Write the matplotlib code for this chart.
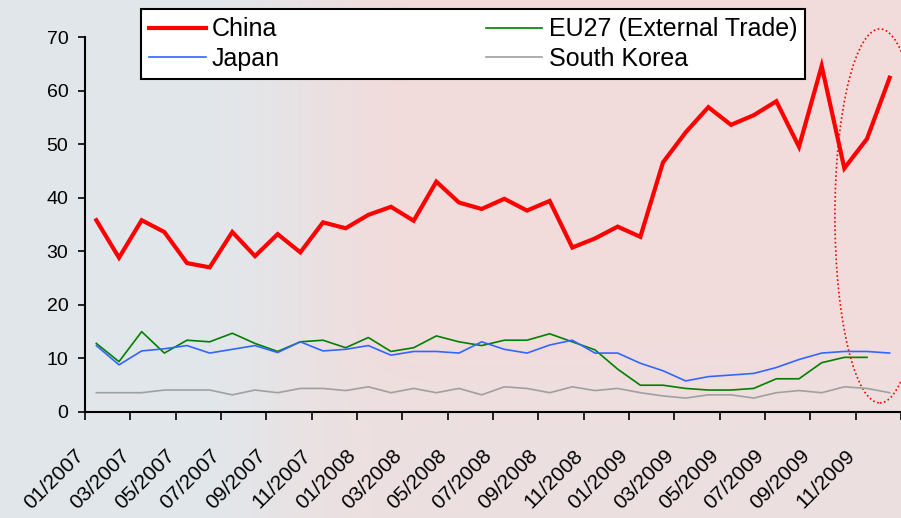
import matplotlib
matplotlib.use("Agg")
import matplotlib.pyplot as plt
import matplotlib.transforms as mtransforms
import numpy as np
from matplotlib.patches import Ellipse

plt.rcParams["font.family"] = ["Liberation Sans", "DejaVu Sans"]

tick_labels = ["01/2007", "03/2007", "05/2007", "07/2007", "09/2007", "11/2007",
               "01/2008", "03/2008", "05/2008", "07/2008", "09/2008", "11/2008",
               "01/2009", "03/2009", "05/2009", "07/2009", "09/2009", "11/2009"]

china = [35.8, 28.8, 35.8, 33.6, 27.8, 27.0, 33.6, 29.1, 33.2, 29.8, 35.4, 34.3,
         36.8, 38.3, 35.7, 43.0, 39.1, 37.9, 39.8, 37.6, 39.4, 30.7, 32.4, 34.6,
         32.7, 46.6, 52.2, 56.9, 53.6, 55.4, 58.0, 49.5, 64.6, 45.5, 51.0, 62.4]
japan = [12.4, 8.8, 11.4, 11.8, 12.4, 11.0, 11.7, 12.4, 11.1, 13.1, 11.4, 11.7,
         12.4, 10.6, 11.3, 11.3, 11.0, 13.1, 11.7, 11.0, 12.5, 13.4, 11.0, 11.0,
         9.1, 7.7, 5.8, 6.6, 6.9, 7.2, 8.3, 9.8, 11.0, 11.3, 11.3, 11.0]
eu27 = [12.8, 9.4, 15.0, 11.0, 13.4, 13.1, 14.7, 12.8, 11.3, 13.1, 13.4, 12.0,
        13.9, 11.3, 12.0, 14.2, 13.1, 12.4, 13.4, 13.4, 14.6, 13.1, 11.6, 8.0,
        5.0, 5.0, 4.4, 4.1, 4.1, 4.4, 6.2, 6.2, 9.2, 10.2, 10.2, np.nan]
korea = [3.6, 3.6, 3.6, 4.1, 4.1, 4.1, 3.2, 4.1, 3.6, 4.4, 4.4, 4.0,
         4.7, 3.6, 4.4, 3.6, 4.4, 3.2, 4.7, 4.4, 3.6, 4.7, 4.0, 4.4,
         3.6, 3.0, 2.6, 3.2, 3.2, 2.6, 3.6, 4.0, 3.6, 4.7, 4.4, 3.6]

fig = plt.figure(figsize=(9.01, 5.18), dpi=100)

# soft photo-like backdrop: grey-blue on the left, pink on the right
bg = fig.add_axes([0, 0, 1, 1], zorder=-1)
h, w = 260, 450
xx = np.linspace(0, 1, w)[None, :]
yy = np.linspace(0, 1, h)[:, None]
pink_w = np.clip((xx - 0.22) / 0.25, 0, 1)
pink_w = pink_w * pink_w * (3 - 2 * pink_w)
low_w = np.clip((yy - 0.62) / 0.2, 0, 1) * 0.6
left_c = np.array([0.885, 0.905, 0.92])
pink_c = np.array([0.95, 0.86, 0.86])
low_c = np.array([0.915, 0.89, 0.89])
img = left_c * (1 - pink_w[..., None]) + pink_c * pink_w[..., None]
img = img * (1 - low_w[..., None] * pink_w[..., None]) + low_c * (low_w[..., None] * pink_w[..., None])
bg.imshow(img, aspect="auto", extent=(0, 1, 0, 1), origin="upper")
bg.axis("off")

ax = fig.add_axes([85 / 901, 106 / 518, 816 / 901, 375 / 518])
ax.set_facecolor("none")

x = np.arange(len(china)) + 0.5
ax.plot(x, china, color="#ff0000", lw=3.0, label="China", solid_joinstyle="miter")
ax.plot(x, eu27, color="#008000", lw=1.2, label="EU27 (External Trade)")
ax.plot(x, japan, color="#3366ff", lw=1.2, label="Japan")
ax.plot(x, korea, color="#a0a0a0", lw=1.2, label="South Korea")

ax.set_xlim(0, 36)
ax.set_ylim(0, 70)
ax.set_yticks(range(0, 71, 10))
ax.set_xticks(range(0, 37, 2))
ax.set_xticklabels(tick_labels + [""], rotation=45, ha="right", va="center",
                   rotation_mode="anchor")

for side in ("top", "right"):
    ax.spines[side].set_visible(False)
for side in ("left", "bottom"):
    ax.spines[side].set_linewidth(1.5)
    ax.spines[side].set_color("black")
ax.tick_params(axis="y", direction="out", length=5, width=1.2, labelsize=14, pad=7)
ax.tick_params(axis="x", direction="out", length=6, width=1.2, labelsize=15, pad=23)

shift = mtransforms.ScaledTranslation(-4 / 100, 0, fig.dpi_scale_trans)
for lbl in ax.get_xticklabels():
    lbl.set_transform(lbl.get_transform() + shift)

ring = Ellipse((35.07, 36.6), 3.97, 69.8, fill=False, edgecolor="#ff0000",
               linestyle=(0, (1, 1.5)), lw=1.2, clip_on=False)
ax.add_patch(ring)

handles, labels = ax.get_legend_handles_labels()
order = [0, 2, 1, 3]
leg = fig.legend([handles[i] for i in order], [labels[i] for i in order],
                 loc="upper left", bbox_to_anchor=(141 / 901, 1 - 9 / 518),
                 ncol=2, fontsize=18, frameon=True, fancybox=False,
                 framealpha=1, edgecolor="black", handlelength=2.25,
                 handletextpad=0.25, columnspacing=8.25, labelspacing=0.22,
                 borderpad=0.33, borderaxespad=0)
leg.get_frame().set_linewidth(1.5)

fig.savefig("out.png", dpi=100)
